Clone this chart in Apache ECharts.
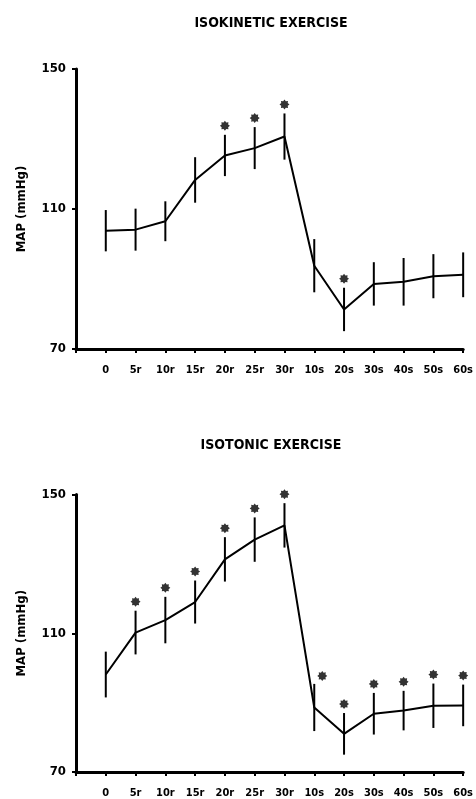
<!DOCTYPE html>
<html>
<head>
<meta charset="utf-8">
<script src="https://cdn.jsdelivr.net/npm/echarts@6/dist/echarts.min.js"></script>
<style>
html,body{margin:0;padding:0;background:#fff;}
#chart{width:476px;height:799px;}
</style>
</head>
<body>
<div id="chart"></div>
<script>
// ---- data ----
const categories = ['0','5r','10r','15r','20r','25r','30r','10s','20s','30s','40s','50s','60s'];
const yTicks = [70, 110, 150];
const titles = ['ISOKINETIC EXERCISE', 'ISOTONIC EXERCISE'];
const yAxisName = 'MAP (mmHg)';

const isokineticMean = [103.8, 104.1, 106.5, 118.3, 125.3, 127.4, 130.7, 93.8, 81.3, 88.6, 89.2, 90.8, 91.2];
const isokineticSem  = [5.9, 6.0, 5.7, 6.5, 5.9, 6.0, 6.6, 7.6, 6.2, 6.2, 6.8, 6.3, 6.4];
const isokineticSig  = [0, 0, 0, 0, 1, 1, 1, 0, 1, 0, 0, 0, 0];

const isotonicMean = [98.1, 110.2, 113.8, 119.0, 131.3, 137.0, 141.1, 88.6, 81.0, 86.8, 87.7, 89.1, 89.2];
const isotonicSem  = [6.6, 6.3, 6.7, 6.2, 6.4, 6.4, 6.4, 6.8, 6.0, 6.0, 5.7, 6.4, 6.0];
const isotonicSig  = [0, 1, 1, 1, 1, 1, 1, 1, 1, 1, 1, 1, 1];

// ---- styling helpers ----
const FONT = '"DejaVu Sans Condensed", "Liberation Sans Narrow", "DejaVu Sans", sans-serif';

function starPath(n, ro, ri) {
  let d = '';
  for (let k = 0; k < 2 * n; k++) {
    const r = k % 2 === 0 ? ro : ri;
    const a = Math.PI * k / n - Math.PI / 2;
    const x = (r * Math.cos(a)).toFixed(3), y = (r * Math.sin(a)).toFixed(3);
    d += (k === 0 ? 'M' : 'L') + x + ' ' + y + ' ';
  }
  return 'path://' + d + 'Z';
}
const STAR = starPath(8, 10, 7);

const panels = [
  {mean: isokineticMean, sem: isokineticSem, sig: isokineticSig,
   grid: {left: 76, top: 69, width: 390, height: 280}, titleY: 23},
  {mean: isotonicMean, sem: isotonicSem, sig: isotonicSig,
   grid: {left: 76, top: 494.5, width: 387.4, height: 279}, titleY: 445}
];

const grid = [], xAxis = [], yAxis = [], series = [], graphic = [];

function errRender(params, api) {
  const x = api.value(0), lo = api.value(1), hi = api.value(2);
  const p1 = api.coord([x, lo]), p2 = api.coord([x, hi]);
  return {type: 'line', shape: {x1: p1[0], y1: p1[1], x2: p2[0], y2: p2[1]},
          style: {stroke: '#000', lineWidth: 2}};
}

panels.forEach((p, gi) => {
  grid.push(p.grid);
  xAxis.push({
    type: 'value', gridIndex: gi, min: -1, max: categories.length - 1, interval: 1,
    splitLine: {show: false},
    axisLine: {onZero: false, lineStyle: {color: '#000', width: 3}},
    axisTick: {show: true, length: 4, lineStyle: {color: '#000', width: 2}},
    axisLabel: {
      margin: 16, color: '#000', fontFamily: FONT, fontWeight: 'bold', fontSize: 11,
      formatter: v => (Number.isInteger(v) && v >= 0 && categories[v]) ? categories[v] : ''
    }
  });
  yAxis.push({
    type: 'value', gridIndex: gi, min: yTicks[0], max: yTicks[yTicks.length - 1],
    interval: yTicks[1] - yTicks[0],
    splitLine: {show: false},
    axisLine: {show: true, onZero: false, lineStyle: {color: '#000', width: 3}},
    axisTick: {show: true, length: 4, lineStyle: {color: '#000', width: 2}},
    axisLabel: {margin: 10, color: '#000', fontFamily: FONT, fontWeight: 'bold', fontSize: 13},
    name: yAxisName, nameLocation: 'middle', nameGap: 48,
    nameTextStyle: {color: '#000', fontFamily: FONT, fontWeight: 'bold', fontSize: 13}
  });
  series.push({
    type: 'custom', xAxisIndex: gi, yAxisIndex: gi, renderItem: errRender,
    data: p.mean.map((m, i) => [i, m - p.sem[i], m + p.sem[i]]), z: 2
  });
  series.push({
    type: 'line', xAxisIndex: gi, yAxisIndex: gi, showSymbol: false,
    lineStyle: {color: '#000', width: 2}, data: p.mean.map((m, i) => [i, m]), z: 3
  });
  const starData = [];
  p.mean.forEach((m, i) => {
    if (p.sig[i]) {
      const item = {value: [i, m + p.sem[i]]};
      if (gi === 1 && i === 7) item.symbolOffset = [8, -8];
      starData.push(item);
    }
  });
  series.push({
    type: 'scatter', xAxisIndex: gi, yAxisIndex: gi, clip: false,
    symbol: STAR, symbolSize: 10, symbolOffset: [0, -9],
    itemStyle: {color: '#000'}, data: starData, z: 4
  });
  graphic.push({
    type: 'text', x: 271, y: p.titleY,
    style: {text: titles[gi], fill: '#000', font: 'bold 14px ' + FONT,
            textAlign: 'center', textVerticalAlign: 'middle'}
  });
});

const chart = echarts.init(document.getElementById('chart'), null, {renderer: 'canvas'});
chart.setOption({animation: false, backgroundColor: '#fff', grid, xAxis, yAxis, series, graphic});
</script>
</body>
</html>
